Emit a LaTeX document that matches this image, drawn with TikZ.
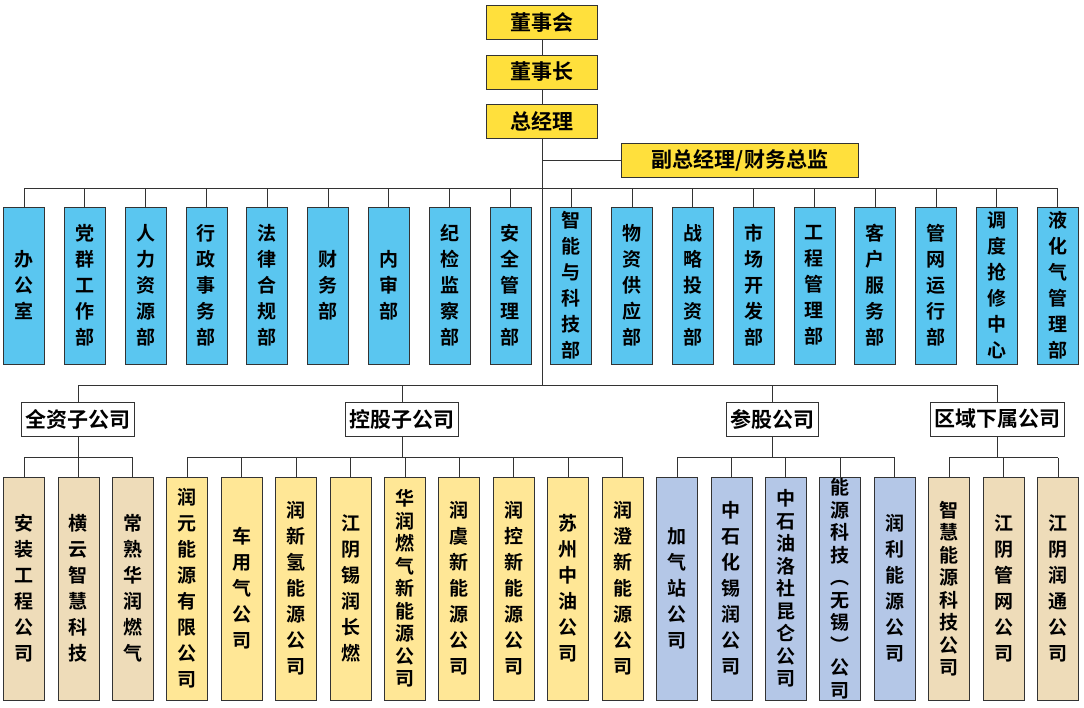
\documentclass[tikz,border=0pt]{standalone}
\usepackage{fontspec}
\setmainfont{Noto Sans CJK SC}[BoldFont={Noto Sans CJK SC Bold}]
\usetikzlibrary{positioning}
\definecolor{topyel}{RGB}{255,224,60}
\definecolor{deptblue}{RGB}{90,198,240}
\definecolor{beige}{RGB}{238,220,185}
\definecolor{paleyel}{RGB}{255,231,150}
\definecolor{lavender}{RGB}{180,199,231}
\tikzset{
	lead/.style={draw=black!80, thick, fill=topyel, minimum width=111, minimum height=34, inner sep=0, font=\bfseries\fontsize{21}{24}\selectfont},
	group/.style={draw=black!80, thick, fill=white, minimum height=34, inner sep=4, font=\bfseries\fontsize{21}{24}\selectfont},
	dept/.style={draw=black!80, thick, fill=deptblue, minimum width=41, minimum height=157, inner sep=0, text width=20, align=center, font=\bfseries\fontsize{19}{26}\selectfont},
	sub/.style={draw=black!80, thick, minimum width=41, minimum height=223, inner sep=0, text width=20, align=center, font=\bfseries\fontsize{19}{26}\selectfont},
	tight/.style={font=\bfseries\fontsize{19}{22.5}\selectfont},
	wire/.style={thick, black!80}
}
\begin{document}
\begin{tikzpicture}[x=1pt, y=-1pt]
	\useasboundingbox (0,0) rectangle (1084,708);
	% leadership
	\node[lead] (board) at (542,22) {董事会};
	\node[lead] (chair) at (542,72) {董事长};
	\node[lead] (gm) at (542,121) {总经理};
	\node[lead, minimum width=237] (vice) at (740,160) {副总经理/财务总监};
	\draw[wire] (board) -- (chair);
	\draw[wire] (chair) -- (gm);
	\draw[wire] (gm.south |- vice.west) -- (vice.west);
	\coordinate (bus) at (542,188);
	\coordinate (hub) at (542,385);
	\draw[wire] (gm) -- (hub);

	% departments
	\foreach \t [count=\i] in {{办\\公\\室}, {党\\群\\工\\作\\部}, {人\\力\\资\\源\\部}, {行\\政\\事\\务\\部}, {法\\律\\合\\规\\部}, {财\\务\\部}, {内\\审\\部}, {纪\\检\\监\\察\\部}, {安\\全\\管\\理\\部}, {智\\能\\与\\科\\技\\部}, {物\\资\\供\\应\\部}, {战\\略\\投\\资\\部}, {市\\场\\开\\发\\部}, {工\\程\\管\\理\\部}, {客\\户\\服\\务\\部}, {管\\网\\运\\行\\部}, {调\\度\\抢\\修\\中\\心}, {液\\化\\气\\管\\理\\部}} {
		\node[dept] (d\i) at ({24+(\i-1)*60.8},285.5) {\t};
		\draw[wire] (d\i.north) -- (d\i.north |- bus);
	}
	\draw[wire] (d1.north |- bus) -- (d18.north |- bus);

	% company groups
	\node[group] (own) at (78,419) {全资子公司};
	\node[group] (hold) at (402,419) {控股子公司};
	\node[group] (share) at (772,419) {参股公司};
	\node[group] (area) at (997,419) {区域下属公司};
	\draw[wire] (own.north |- hub) -- (area.north |- hub);
	\foreach \g in {own, hold, share, area}
		\draw[wire] (\g.north |- hub) -- (\g.north);

	% subsidiaries
	\foreach \t/\c/\s [count=\i] in {{安\\装\\工\\程\\公\\司}/beige/, {横\\云\\智\\慧\\科\\技}/beige/, {常\\熟\\华\\润\\燃\\气}/beige/,
		{润\\元\\能\\源\\有\\限\\公\\司}/paleyel/, {车\\用\\气\\公\\司}/paleyel/, {润\\新\\氢\\能\\源\\公\\司}/paleyel/, {江\\阴\\锡\\润\\长\\燃}/paleyel/, {华\\润\\燃\\气\\新\\能\\源\\公\\司}/paleyel/tight, {润\\虞\\新\\能\\源\\公\\司}/paleyel/, {润\\控\\新\\能\\源\\公\\司}/paleyel/, {苏\\州\\中\\油\\公\\司}/paleyel/, {润\\澄\\新\\能\\源\\公\\司}/paleyel/,
		{加\\气\\站\\公\\司}/lavender/, {中\\石\\化\\锡\\润\\公\\司}/lavender/, {中\\石\\油\\洛\\社\\昆\\仑\\公\\司}/lavender/tight, {能\\源\\科\\技\\︵\\无\\锡\\︶\\公\\司}/lavender/tight, {润\\利\\能\\源\\公\\司}/lavender/,
		{智\\慧\\能\\源\\科\\技\\公\\司}/beige/tight, {江\\阴\\管\\网\\公\\司}/beige/, {江\\阴\\润\\通\\公\\司}/beige/} {
		\node[sub, fill=\c, \s] (s\i) at ({24+(\i-1)*54.42},588.5) {\t};
		\draw[wire] (s\i.north) -- ++(0,-19);
	}
	\draw[wire] (s1.north) ++(0,-19) -| (own);
	\draw[wire] (s1.north) ++(0,-19) -- ([yshift=19]s3.north);
	\draw[wire] (s4.north) ++(0,-19) -- ([yshift=19]s12.north);
	\draw[wire] (s13.north) ++(0,-19) -- ([yshift=19]s17.north);
	\draw[wire] (s18.north) ++(0,-19) -- ([yshift=19]s20.north);
	\draw[wire] (own.south) -- (own.south |- 0,458);
	\draw[wire] (hold.south) -- (hold.south |- 0,458);
	\draw[wire] (share.south) -- (share.south |- 0,458);
	\draw[wire] (area.south) -- (area.south |- 0,458);
\end{tikzpicture}
\end{document}
